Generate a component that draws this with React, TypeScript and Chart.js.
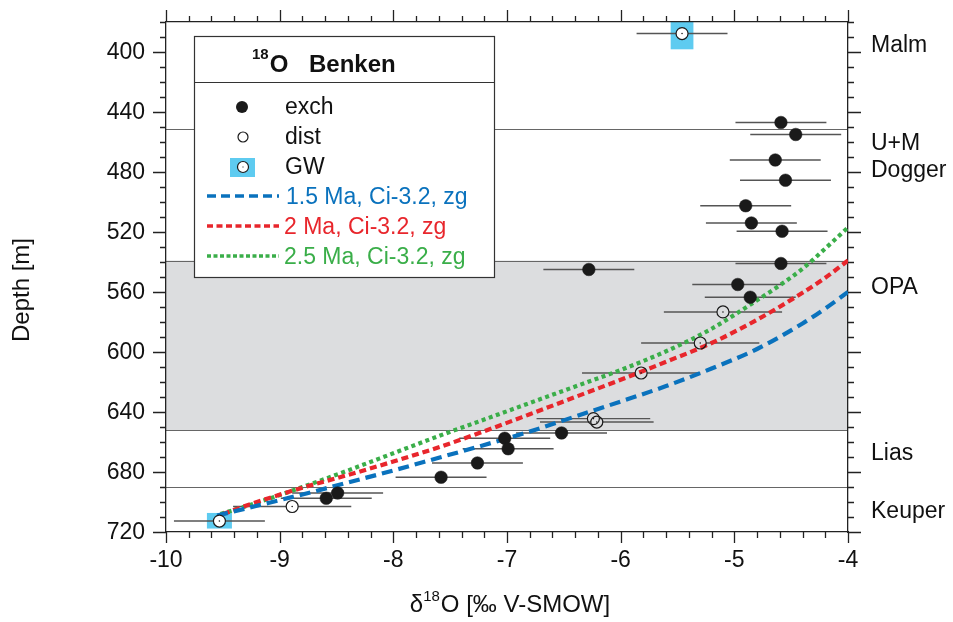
import React, { useEffect, useRef } from "react";
import { Chart, registerables } from "chart.js";

Chart.register(...registerables);

const FONT = "'Liberation Sans', Arial, Helvetica, sans-serif";

// ---- data ----
const exchX = [-4.59, -4.46, -4.64, -4.55, -4.9, -4.85, -4.58, -6.28, -4.59, -4.97, -4.86, -6.52, -7.02, -6.99, -7.26, -7.58, -8.49, -8.59];
const exchDepth = [447, 455, 472, 485.5, 502.5, 514, 519.5, 545, 541, 555, 563.5, 654, 657.5, 664.5, 674, 683.5, 694, 697.5];
const exchErr = [0.4, 0.4, 0.4, 0.4, 0.4, 0.4, 0.4, 0.4, 0.4, 0.4, 0.4, 0.4, 0.4, 0.4, 0.4, 0.4, 0.4, 0.4];

const distX = [-5.1, -5.3, -5.82, -6.24, -6.21, -8.89];
const distDepth = [573.3, 594, 614, 644.4, 646.7, 703];
const distErr = [0.52, 0.52, 0.52, 0.5, 0.5, 0.52];

const gwX = [-5.46, -9.53];
const gwDepth = [387.7, 712.7];
const gwErr = [0.4, 0.4];
const gwDepthTop = [380, 707.3];
const gwDepthBottom = [398.2, 717.7];
const gwHalfWidth = [0.1, 0.11];

const m15X = [-9.55, -9.2, -8.8, -8.4, -8.0, -7.6, -7.2, -6.8, -6.4, -6.0, -5.6, -5.2, -4.8, -4.4, -4.2, -4.0];
const m15Depth = [709, 702.5, 695, 687, 679, 670.5, 662, 653, 643, 633, 622.7, 611, 598, 581, 571, 560];

const m2X = [-9.5, -9.2, -8.8, -8.4, -8.0, -7.6, -7.2, -6.8, -6.4, -6.0, -5.6, -5.2, -4.8, -4.4, -4.2, -4.0];
const m2Depth = [708, 700, 690.5, 682, 673, 663.5, 652.8, 641.5, 630, 618.5, 606.5, 594, 578.5, 560.5, 550.5, 539];

const m25X = [-9.52, -9.2, -8.8, -8.4, -8.0, -7.6, -7.2, -6.8, -6.4, -6.0, -5.6, -5.2, -4.8, -4.6, -4.4, -4.2, -4.0];
const m25Depth = [708, 700.5, 690, 679, 667.5, 656, 645, 634, 623, 612, 599.5, 584.5, 565.5, 555.5, 544.5, 531, 517];

// formation boundaries and shaded OPA interval
const boundaryDepths = [451, 539, 652, 690];
const opaTop = 539;
const opaBottom = 652;
const formationNames = ["Malm", "U+M", "Dogger", "OPA", "Lias", "Keuper"];
const formationLabelDepths = [396, 461, 479, 557, 668, 706.5];

// axes
const xMin = -10;
const xMax = -4;
const yMin = 380;
const yMax = 720;
const xMajorTicks = [-10, -9, -8, -7, -6, -5, -4];
const xTickLabels = ["-10", "-9", "-8", "-7", "-6", "-5", "-4"];
const yMajorTicks = [400, 440, 480, 520, 560, 600, 640, 680, 720];
const yTickLabels = ["400", "440", "480", "520", "560", "600", "640", "680", "720"];
const xMinorStep = 0.2;
const yMinorStep = 10;

const legendLabels = ["exch", "dist", "GW", "1.5 Ma, Ci-3.2, zg", "2 Ma, Ci-3.2, zg", "2.5 Ma, Ci-3.2, zg"];

const BLUE = "#0a72bd";
const RED = "#e8262c";
const GREEN = "#3aae49";
const GW_BLUE = "#5ecbf0";
const BAND = "#dcdddf";
const AXIS = "#222";

const pts = (xs: number[], ys: number[]) => xs.map((x, i) => ({ x, y: ys[i] }));

const customPlugin = {
  id: "custom",
  beforeDraw(chart: any) {
    const { ctx, chartArea } = chart;
    const xs = chart.scales.x;
    const ys = chart.scales.y;
    ctx.save();
    const t = ys.getPixelForValue(opaTop);
    const b = ys.getPixelForValue(opaBottom);
    ctx.fillStyle = BAND;
    ctx.fillRect(chartArea.left, t, chartArea.right - chartArea.left, b - t);
    ctx.strokeStyle = "#666";
    ctx.lineWidth = 1.2;
    for (const d of boundaryDepths) {
      const py = Math.round(ys.getPixelForValue(d)) + 0.5;
      ctx.beginPath();
      ctx.moveTo(chartArea.left, py);
      ctx.lineTo(chartArea.right, py);
      ctx.stroke();
    }
    // GW rectangles
    ctx.fillStyle = GW_BLUE;
    for (let i = 0; i < gwX.length; i++) {
      const x0 = xs.getPixelForValue(gwX[i] - gwHalfWidth[i]);
      const x1 = xs.getPixelForValue(gwX[i] + gwHalfWidth[i]);
      const y0 = ys.getPixelForValue(gwDepthTop[i]);
      const y1 = ys.getPixelForValue(gwDepthBottom[i]);
      ctx.fillRect(x0, y0, x1 - x0, y1 - y0);
    }
    ctx.restore();
  },
  beforeDatasetsDraw(chart: any) {
    const { ctx } = chart;
    const xs = chart.scales.x;
    const ys = chart.scales.y;
    ctx.save();
    ctx.strokeStyle = "#555";
    ctx.lineWidth = 1.4;
    const bars = (X: number[], D: number[], E: number[], gap: number) => {
      for (let i = 0; i < X.length; i++) {
        const py = ys.getPixelForValue(D[i]);
        const cx = xs.getPixelForValue(X[i]);
        const a = xs.getPixelForValue(X[i] - E[i]);
        const b = xs.getPixelForValue(X[i] + E[i]);
        ctx.beginPath();
        if (gap > 0) {
          ctx.moveTo(a, py);
          ctx.lineTo(cx - gap, py);
          ctx.moveTo(cx + gap, py);
          ctx.lineTo(b, py);
        } else {
          ctx.moveTo(a, py);
          ctx.lineTo(b, py);
        }
        ctx.stroke();
      }
    };
    bars(exchX, exchDepth, exchErr, 0);
    bars(distX, distDepth, distErr, 6);
    bars(gwX, gwDepth, gwErr, 0);
    ctx.restore();
  },
  afterDraw(chart: any) {
    const { ctx, chartArea } = chart;
    const xs = chart.scales.x;
    const ys = chart.scales.y;
    const { left, right, top, bottom } = chartArea;
    ctx.save();
    // tick marks on all four sides
    ctx.strokeStyle = AXIS;
    ctx.lineWidth = 1.3;
    const nx = Math.round((xMax - xMin) / xMinorStep);
    for (let i = 0; i <= nx; i++) {
      const v = xMin + i * xMinorStep;
      const major = xMajorTicks.some((m) => Math.abs(m - v) < 1e-6);
      const px = Math.round(xs.getPixelForValue(v)) + 0.5;
      ctx.beginPath();
      ctx.moveTo(px, bottom);
      ctx.lineTo(px, bottom + (major ? 11 : 6));
      ctx.moveTo(px, top);
      ctx.lineTo(px, top - (major ? 12 : 6));
      ctx.stroke();
    }
    const ny = Math.round((yMax - yMin) / yMinorStep);
    for (let i = 0; i <= ny; i++) {
      const v = yMin + i * yMinorStep;
      const major = yMajorTicks.includes(v);
      const py = Math.round(ys.getPixelForValue(v)) + 0.5;
      ctx.beginPath();
      ctx.moveTo(left, py);
      ctx.lineTo(left - (major ? 13 : 6), py);
      ctx.moveTo(right, py);
      ctx.lineTo(right + (major ? 13 : 6), py);
      ctx.stroke();
    }

    // tick labels
    ctx.fillStyle = "#111";
    ctx.font = `23px ${FONT}`;
    ctx.textBaseline = "middle";
    ctx.textAlign = "right";
    yMajorTicks.forEach((v, i) => {
      ctx.fillText(yTickLabels[i], left - 21, ys.getPixelForValue(v) + 1);
    });
    ctx.textAlign = "center";
    xMajorTicks.forEach((v, i) => {
      ctx.fillText(xTickLabels[i], xs.getPixelForValue(v), bottom + 29);
    });

    // formation labels
    ctx.textAlign = "left";
    formationNames.forEach((n, i) => {
      ctx.fillText(n, right + 23, ys.getPixelForValue(formationLabelDepths[i]));
    });

    // axis titles
    ctx.save();
    ctx.translate(22, 290);
    ctx.rotate(-Math.PI / 2);
    ctx.textAlign = "center";
    ctx.textBaseline = "middle";
    ctx.font = `24px ${FONT}`;
    ctx.fillText("Depth [m]", 0, 0);
    ctx.restore();

    ctx.textBaseline = "alphabetic";
    ctx.textAlign = "left";
    ctx.font = `24px ${FONT}`;
    const p1 = "\u03B4";
    const p3 = "O [\u2030 V-SMOW]";
    const w1 = ctx.measureText(p1).width;
    const w3 = ctx.measureText(p3).width;
    ctx.font = `15px ${FONT}`;
    const w2 = ctx.measureText("18").width;
    const total = w1 + w2 + 1 + w3;
    const x0 = 510 - total / 2;
    ctx.font = `24px ${FONT}`;
    ctx.fillText(p1, x0, 612);
    ctx.font = `15px ${FONT}`;
    ctx.fillText("18", x0 + w1, 601);
    ctx.font = `24px ${FONT}`;
    ctx.fillText(p3, x0 + w1 + w2 + 1, 612);

    // legend box
    ctx.fillStyle = "#fff";
    ctx.fillRect(194, 36, 300, 241);
    ctx.strokeStyle = "#333";
    ctx.lineWidth = 1.2;
    ctx.strokeRect(194.5, 36.5, 300, 241);
    ctx.beginPath();
    ctx.moveTo(194, 82.5);
    ctx.lineTo(494, 82.5);
    ctx.stroke();

    ctx.fillStyle = "#111";
    ctx.font = `bold 15px ${FONT}`;
    ctx.fillText("18", 252, 59);
    const w18 = ctx.measureText("18").width;
    ctx.font = `bold 24px ${FONT}`;
    ctx.fillText("O", 252 + w18 + 1, 72);
    ctx.fillText("Benken", 309, 72);

    // markers
    ctx.fillStyle = "#1a1a1a";
    ctx.beginPath();
    ctx.arc(242, 107, 6, 0, Math.PI * 2);
    ctx.fill();
    ctx.strokeStyle = "#1a1a1a";
    ctx.lineWidth = 1.2;
    ctx.beginPath();
    ctx.arc(243, 137, 5, 0, Math.PI * 2);
    ctx.stroke();
    ctx.fillStyle = GW_BLUE;
    ctx.fillRect(230, 158, 25, 19);
    ctx.fillStyle = "#fff";
    ctx.beginPath();
    ctx.arc(243, 167, 5.5, 0, Math.PI * 2);
    ctx.fill();
    ctx.stroke();
    ctx.fillStyle = "#1a1a1a";
    ctx.fillRect(242.5, 166.5, 1, 1);

    const lineItems = [
      { c: BLUE, dash: [9, 5], y: 196 },
      { c: RED, dash: [6, 3.5], y: 226 },
      { c: GREEN, dash: [4, 2.5], y: 256 },
    ];
    ctx.lineWidth = 3.5;
    for (const li of lineItems) {
      ctx.strokeStyle = li.c;
      ctx.setLineDash(li.dash);
      ctx.beginPath();
      ctx.moveTo(207, li.y);
      ctx.lineTo(279, li.y);
      ctx.stroke();
    }
    ctx.setLineDash([]);

    ctx.font = `23px ${FONT}`;
    ctx.fillStyle = "#111";
    ctx.fillText(legendLabels[0], 285, 114);
    ctx.fillText(legendLabels[1], 285, 144);
    ctx.fillText(legendLabels[2], 285, 174);
    ctx.fillStyle = BLUE;
    ctx.fillText(legendLabels[3], 286, 204);
    ctx.fillStyle = RED;
    ctx.fillText(legendLabels[4], 284, 234);
    ctx.fillStyle = GREEN;
    ctx.fillText(legendLabels[5], 284, 264);

    ctx.restore();
  },
};

export default function App() {
  const ref = useRef<HTMLCanvasElement | null>(null);

  useEffect(() => {
    if (!ref.current) return;
    const curve = (label: string, X: number[], D: number[], color: string, dash: number[]) => ({
      type: "line" as const,
      label,
      data: pts(X, D),
      borderColor: color,
      borderWidth: 4.2,
      borderDash: dash,
      pointRadius: 0,
      fill: false,
      showLine: true,
      cubicInterpolationMode: "monotone" as const,
      order: 2,
    });
    const hiddenAxis = (pos: string, extra: any, fit: (s: any) => void) => ({
      type: "linear",
      position: pos,
      ...extra,
      afterFit: fit,
      ticks: { display: false },
      grid: { display: false, drawTicks: false },
      border: { display: true, color: AXIS, width: 1.3 },
    });
    const chart = new Chart(ref.current, {
      type: "scatter",
      data: {
        datasets: [
          curve(legendLabels[3], m15X, m15Depth, BLUE, [11, 6]),
          curve(legendLabels[4], m2X, m2Depth, RED, [7, 4]),
          curve(legendLabels[5], m25X, m25Depth, GREEN, [4, 3.5]),
          {
            label: legendLabels[0],
            data: pts(exchX, exchDepth),
            pointRadius: 6.3,
            pointBackgroundColor: "#1a1a1a",
            pointBorderColor: "#1a1a1a",
            pointBorderWidth: 0.5,
            order: 1,
          },
          {
            label: legendLabels[1],
            data: pts(distX, distDepth),
            pointRadius: 6,
            pointBackgroundColor: "rgba(0,0,0,0)",
            pointBorderColor: "#1a1a1a",
            pointBorderWidth: 1.2,
            order: 1,
          },
          {
            label: legendLabels[2],
            data: pts(gwX, gwDepth),
            pointRadius: 6,
            pointBackgroundColor: "#fff",
            pointBorderColor: "#1a1a1a",
            pointBorderWidth: 1.2,
            order: 0,
          },
          {
            label: "centres",
            data: [...pts(distX, distDepth), ...pts(gwX, gwDepth)],
            pointRadius: 0.8,
            pointBackgroundColor: "#1a1a1a",
            pointBorderWidth: 0,
            order: -1,
          },
        ],
      },
      options: {
        responsive: false,
        animation: false,
        layout: { padding: 0 },
        plugins: { legend: { display: false }, tooltip: { enabled: false } },
        scales: {
          x: hiddenAxis("bottom", { min: xMin, max: xMax }, (s: any) => {
            s.height = 90;
          }),
          x2: hiddenAxis("top", { min: xMin, max: xMax }, (s: any) => {
            s.height = 22;
          }),
          y: hiddenAxis("left", { min: yMin, max: yMax, reverse: true }, (s: any) => {
            s.width = 166;
          }),
          y2: hiddenAxis("right", { min: yMin, max: yMax, reverse: true }, (s: any) => {
            s.width = 105;
          }),
        },
      },
      plugins: [customPlugin],
    } as any);
    return () => chart.destroy();
  }, []);

  return (
    <div style={{ position: "absolute", left: 0, top: 0, width: 953, height: 622, background: "#fff" }}>
      <canvas ref={ref} width={953} height={622} style={{ display: "block" }} />
    </div>
  );
}
